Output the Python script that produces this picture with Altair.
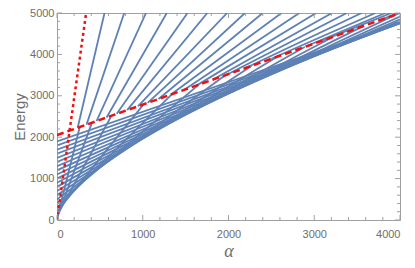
import altair as alt
import pandas as pd

# steep lines above the dashed threshold: start point on the dashed line, end at E=5000
steep_start_alpha = [241, 344, 461, 578, 697, 818, 943, 1057, 1184, 1325,
                     1480, 1630, 1820, 1980, 2200, 2500, 2900, 3100, 3750]
steep_start_E = [2228, 2303, 2390, 2477, 2564, 2653, 2746, 2830, 2923, 3027,
                 3142, 3252, 3393, 3510, 3672, 3894, 4190, 4340, 4816]
steep_top_alpha = [554, 784, 1038, 1280, 1522, 1753, 1984, 2192, 2399, 2618,
                   2826, 3022, 3207, 3380, 3553, 3714, 3830, 3900, 3980]

# lattice lines below the threshold: intercept at alpha=0 and end point
low_start_E = [25, 50, 100, 200, 300, 400, 500, 600, 700, 800, 900, 1000,
               1100, 1200, 1300, 1400, 1500, 1600, 1700, 1800, 1900]
low_end_alpha = [265, 408, 635, 1009, 1341, 1654, 1961, 2267, 2573, 2889, 3217, 3577,
                 3983, 4000, 4000, 4000, 4000, 4000, 4000, 4000, 4000]
low_end_E = [2246, 2351, 2518, 2794, 3038, 3270, 3496, 3722, 3948, 4180, 4422, 4688,
             4988, 4916, 4850, 4806, 4776, 4760, 4753, 4754, 4764]

red_dash_alpha = [0, 4000]
red_dash_E = [2050, 5000]
red_dot_alpha = [0, 340]
red_dot_E = [0, 5000]

x_major = [0, 1000, 2000, 3000, 4000]
x_minor = [200, 400, 600, 800, 1200, 1400, 1600, 1800, 2200, 2400, 2600, 2800,
           3200, 3400, 3600, 3800]
y_major = [0, 1000, 2000, 3000, 4000, 5000]
y_minor = [200, 400, 600, 800, 1200, 1400, 1600, 1800, 2200, 2400, 2600, 2800,
           3200, 3400, 3600, 3800, 4200, 4400, 4600, 4800]

rows = []
for i, (sa, se, t) in enumerate(zip(steep_start_alpha, steep_start_E, steep_top_alpha)):
    rows.append({"id": "a%d" % i, "alpha": sa, "E": se, "o": 0})
    rows.append({"id": "a%d" % i, "alpha": t, "E": 5000, "o": 1})
for j, (s, ea, ee) in enumerate(zip(low_start_E, low_end_alpha, low_end_E)):
    rows.append({"id": "b%d" % j, "alpha": 0, "E": s, "o": 0})
    rows.append({"id": "b%d" % j, "alpha": ea, "E": ee, "o": 1})
blue_df = pd.DataFrame(rows)

red_dash = pd.DataFrame({"alpha": red_dash_alpha, "E": red_dash_E})
red_dot = pd.DataFrame({"alpha": red_dot_alpha, "E": red_dot_E})

W, H = 343, 207
grey = "#6e6e6e"
frame = "#a0a0a0"
blue = "#5e81b5"
red = "#ee1111"
xs = alt.Scale(domain=[0, 4000], nice=False)
ys = alt.Scale(domain=[0, 5000], nice=False)
xax = alt.Axis(values=x_major, format="d", title="α",
               titleFontStyle="italic", titleFontSize=18, titleFont="Liberation Serif",
               titleFontWeight="normal", titleColor=grey, titlePadding=3,
               labelColor=grey, labelFontSize=11, labelFont="Liberation Sans", labelPadding=8,
               domain=False, ticks=False, grid=False)
yax = alt.Axis(values=y_major, format="d", title="Energy",
               titleFontSize=15, titleFont="Liberation Sans", titleFontWeight="normal",
               titleColor=grey, titlePadding=2, labelColor=grey, labelFontSize=11,
               labelFont="Liberation Sans", labelPadding=3,
               domain=False, ticks=False, grid=False)

lines = alt.Chart(blue_df).mark_line(color=blue, strokeWidth=1.8, clip=True).encode(
    x=alt.X("alpha:Q", scale=xs, axis=xax),
    y=alt.Y("E:Q", scale=ys, axis=yax),
    detail="id:N", order="o:Q")
rd = alt.Chart(red_dash).mark_line(color=red, strokeWidth=2.5, strokeDash=[7, 4], clip=True).encode(
    x="alpha:Q", y="E:Q")
rt = alt.Chart(red_dot).mark_line(color=red, strokeWidth=2.5, strokeDash=[3, 3], clip=True).encode(
    x="alpha:Q", y="E:Q")

# frame ticks (pointing inward), on all four sides
xt_major = pd.DataFrame({"v": x_major})
xt_minor = pd.DataFrame({"v": x_minor})
yt_major = pd.DataFrame({"v": y_major})
yt_minor = pd.DataFrame({"v": y_minor})
ticks = [
    alt.Chart(xt_major).mark_rule(color=frame).encode(x="v:Q", y=alt.value(H), y2=alt.value(H - 5)),
    alt.Chart(xt_minor).mark_rule(color=frame).encode(x="v:Q", y=alt.value(H), y2=alt.value(H - 3)),
    alt.Chart(xt_major).mark_rule(color=frame).encode(x="v:Q", y=alt.value(0), y2=alt.value(5)),
    alt.Chart(xt_minor).mark_rule(color=frame).encode(x="v:Q", y=alt.value(0), y2=alt.value(3)),
    alt.Chart(yt_major).mark_rule(color=frame).encode(y="v:Q", x=alt.value(0), x2=alt.value(5)),
    alt.Chart(yt_minor).mark_rule(color=frame).encode(y="v:Q", x=alt.value(0), x2=alt.value(3)),
    alt.Chart(yt_major).mark_rule(color=frame).encode(y="v:Q", x=alt.value(W), x2=alt.value(W - 5)),
    alt.Chart(yt_minor).mark_rule(color=frame).encode(y="v:Q", x=alt.value(W), x2=alt.value(W - 3)),
]

chart = alt.layer(lines, rd, rt, *ticks).properties(
    width=W, height=H,
    autosize=alt.AutoSizeParams(type="none"),
    padding={"left": 49, "top": 5, "right": 7, "bottom": 40},
).configure_view(stroke=frame, strokeWidth=1)
chart.save("out.html", embed_options={"renderer": "svg", "actions": False})
